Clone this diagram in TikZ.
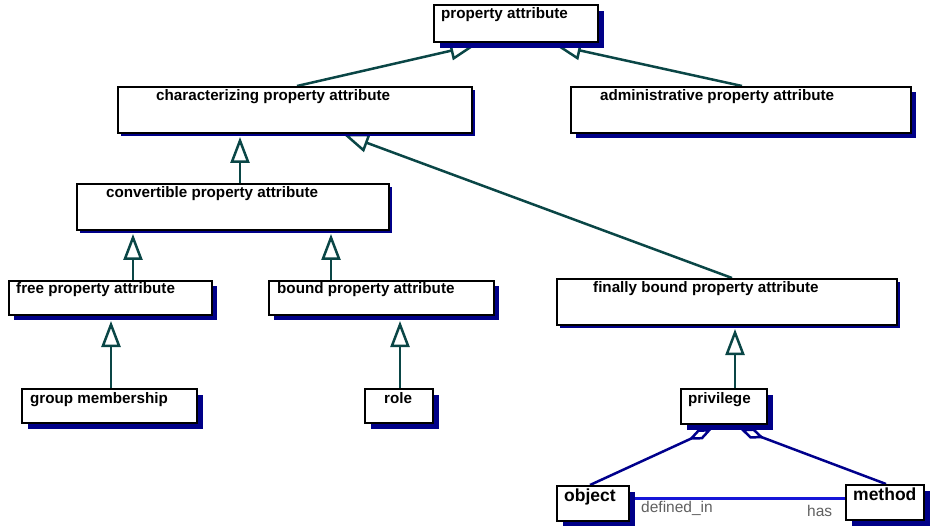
\documentclass[tikz,border=0pt]{standalone}
\usepackage{fontspec}
\setmainfont{Liberation Sans}
\usetikzlibrary{arrows.meta,shadows,backgrounds}
\definecolor{edgeteal}{HTML}{0A4646}
\definecolor{shadenavy}{HTML}{000088}
\definecolor{aggnavy}{HTML}{00008C}
\definecolor{linkblue}{HTML}{1515D8}
\definecolor{rolegray}{HTML}{606060}

\begin{document}
\begin{tikzpicture}[x=1pt,y=-1pt,
  cls/.style={rectangle, draw=black, line width=2pt, fill=white, inner sep=0pt,
    anchor=north west,
    general shadow={fill=shadenavy, shadow xshift=#1, shadow yshift=-#1}},
  cls/.default=6pt,
  clsname/.style={font=\bfseries\fontsize{15.2}{18}\selectfont, inner sep=0pt, anchor=base west},
  bigname/.style={clsname, font=\bfseries\fontsize{17.5}{20}\selectfont},
  rolename/.style={font=\fontsize{15.5}{18}\selectfont, text=rolegray, inner sep=0pt, anchor=base west},
  gen/.style={draw=edgeteal, line width=2.5pt, -{Triangle[length=26pt,width=19pt,fill=white]}},
  agg/.style={draw=aggnavy, line width=2.5pt, -{Diamond[length=26pt,width=11pt,fill=white]}},
  assoc/.style={draw=linkblue, line width=2.2pt}]

\useasboundingbox (0,0) rectangle (931,526);

% classes
\node[cls=6pt, minimum width=164pt, minimum height=37pt] (pa)      at (433,4)   {};
\node[cls=3pt, minimum width=354pt, minimum height=46pt] (charpa)  at (117,86)  {};
\node[cls=5pt, minimum width=340pt, minimum height=46pt] (adminpa) at (570,86)  {};
\node[cls=3pt, minimum width=312pt, minimum height=46pt] (conv)    at (76,183)  {};
\node[cls=5pt, minimum width=203pt, minimum height=34pt] (free)    at (8,280)   {};
\node[cls=5pt, minimum width=225pt, minimum height=34pt] (bound)   at (268,280) {};
\node[cls=3pt, minimum width=340pt, minimum height=46pt] (finally) at (556,278) {};
\node[cls=6pt, minimum width=175pt, minimum height=34pt] (group)   at (21,388)  {};
\node[cls=6pt, minimum width=68pt,  minimum height=34pt] (role)    at (364,388) {};
\node[cls=6pt, minimum width=86pt,  minimum height=35pt] (priv)    at (680,388) {};
\node[cls=6pt, minimum width=72pt,  minimum height=35pt] (object)  at (556,485) {};
\node[cls=6pt, minimum width=78pt,  minimum height=35pt] (method)  at (845,484) {};

% class names
\node[clsname] (tpa)      at (441,19)  {property attribute};
\node[clsname] (tcharpa)  at (156,101) {characterizing property attribute};
\node[clsname] (tadminpa) at (600,101) {administrative property attribute};
\node[clsname] (tconv)    at (106,198) {convertible property attribute};
\node[clsname] (tfree)    at (16,294)  {free property attribute};
\node[clsname] (tbound)   at (277,294) {bound property attribute};
\node[clsname] (tfinally) at (593,293) {finally bound property attribute};
\node[clsname] (tgroup)   at (30,403)  {group membership};
\node[clsname] (trole)    at (384,403) {role};
\node[clsname] (tpriv)    at (688,403) {privilege};
\node[bigname] (tobject)  at (564,501) {object};
\node[bigname] (tmethod)  at (853,500) {method};

% association role names
\node[rolename] (lbldef) at (641,512) {defined\_in};
\node[rolename] (lblhas) at (807,516) {has};

\begin{pgfonlayer}{background}
  % generalizations
  \draw[gen] ([xshift=180pt]charpa.north west) -- ([xshift=43pt,yshift=-2pt]pa.south west);
  \draw[gen] ([xshift=172pt]adminpa.north west) -- ([xshift=122pt,yshift=-2pt]pa.south west);
  \draw[gen] ([xshift=164pt]conv.north west) -- ([xshift=123pt,yshift=-3pt]charpa.south west);
  \draw[gen] ([xshift=176pt]finally.north west) -- ([xshift=226pt]charpa.south west);
  \draw[gen] ([xshift=125pt]free.north west) -- ([xshift=57pt,yshift=-3pt]conv.south west);
  \draw[gen] ([xshift=63pt]bound.north west) -- ([xshift=255pt,yshift=-3pt]conv.south west);
  \draw[gen] ([xshift=90pt]group.north west) -- ([xshift=103pt,yshift=-5pt]free.south west);
  \draw[gen] ([xshift=36pt]role.north west) -- ([xshift=132pt,yshift=-5pt]bound.south west);
  \draw[gen] ([xshift=55pt]priv.north west) -- ([xshift=179pt,yshift=-3pt]finally.south west);
  % aggregations
  \draw[agg] ([xshift=34pt]object.north west) -- ([xshift=32pt,yshift=-4pt]priv.south west);
  \draw[agg] ([xshift=41pt]method.north west) -- ([xshift=60pt,yshift=-4pt]priv.south west);
  % association
  \draw[assoc] ([yshift=5pt]object.east) -- ([yshift=4pt]method.west);
\end{pgfonlayer}
\end{tikzpicture}
\end{document}
